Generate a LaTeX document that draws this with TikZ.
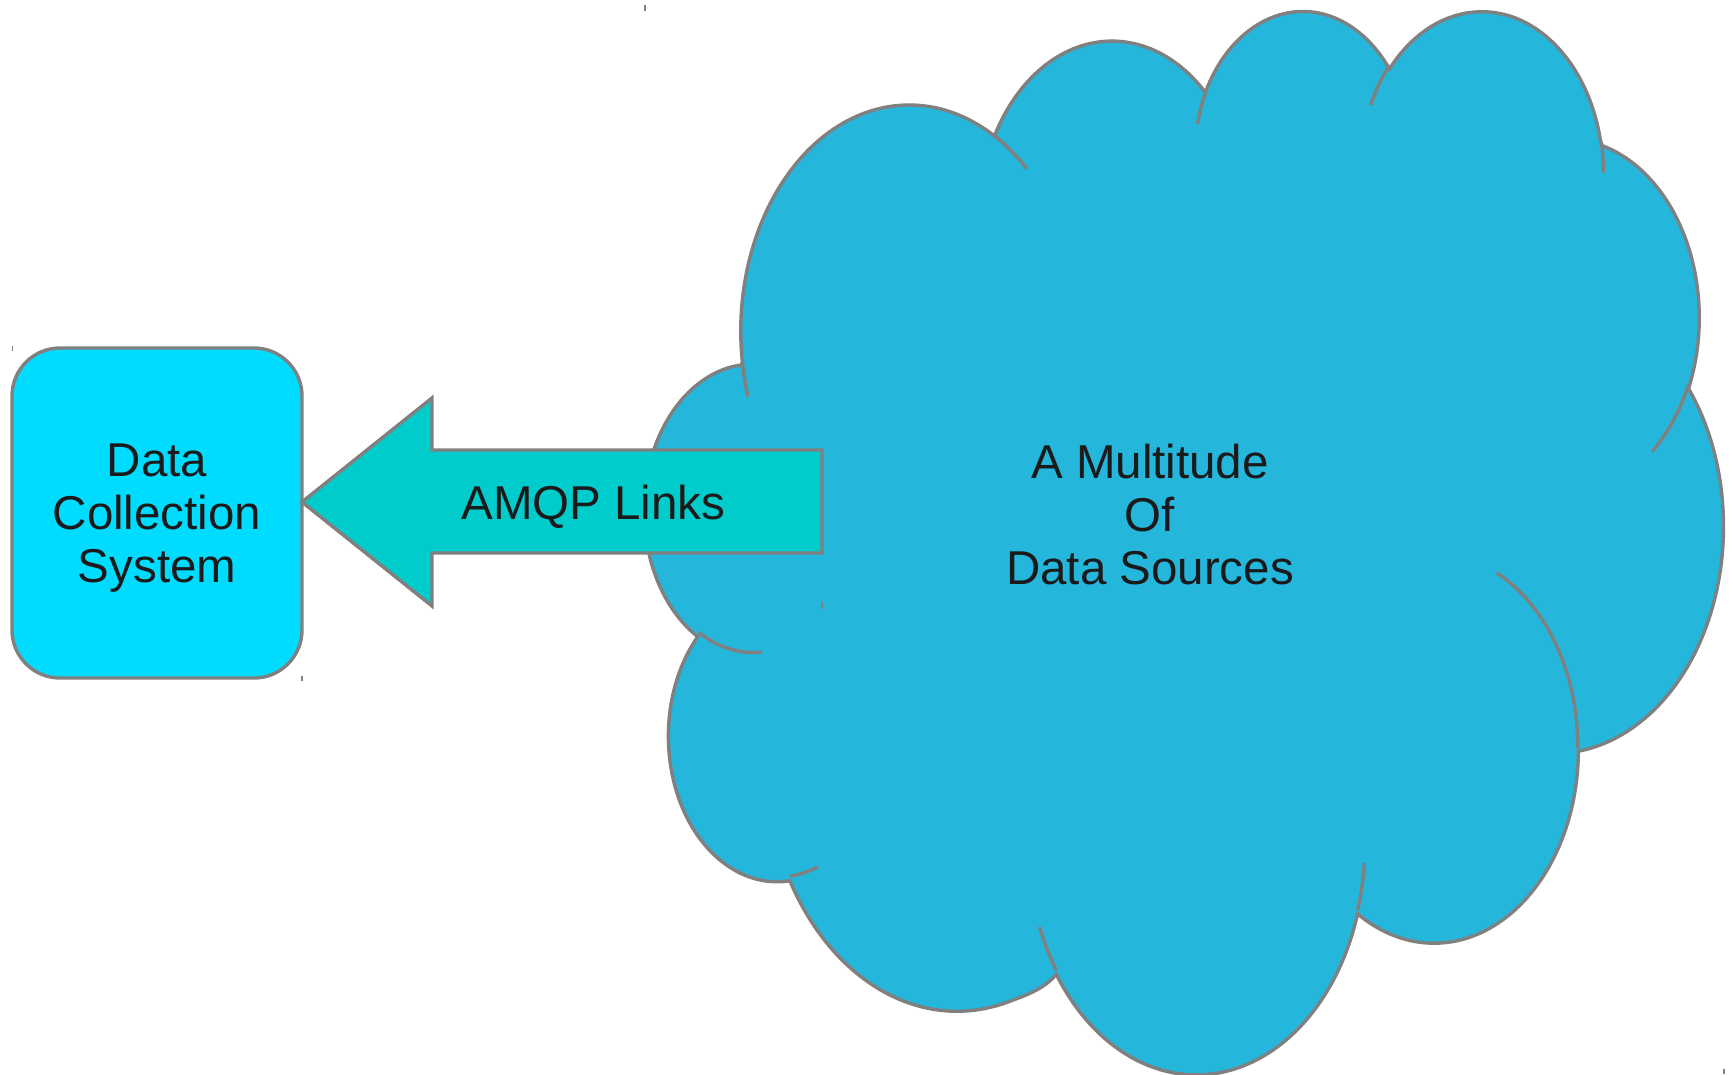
\documentclass[tikz,border=0pt]{standalone}
\usepackage{fontspec}
\setmainfont{Liberation Sans}
\definecolor{cloudfill}{HTML}{25B6DC}
\definecolor{boxfill}{HTML}{00DCFF}
\definecolor{arrowfill}{HTML}{00CCCC}
\definecolor{edgegray}{HTML}{808080}
\definecolor{txt}{HTML}{1A1A1A}
% visual angle (DrawingML arcTo) -> parametric angles for a TikZ arc
\newcommand\cloudang[5]{%
  \pgfmathsetmacro\cltmpa{atan2((#2)*sin(#4),(#3)*cos(#4))}%
  \pgfmathsetmacro\cltmpb{atan2((#2)*sin((#4)+(#5)),(#3)*cos((#4)+(#5)))}%
  \pgfmathsetmacro\cltmpb{\cltmpb<\cltmpa ? \cltmpb+360 : \cltmpb}%
  \expandafter\xdef\csname cls#1\endcsname{\cltmpa}%
  \expandafter\xdef\csname cle#1\endcsname{\cltmpb}%
}
\begin{document}
\begin{tikzpicture}[x=1pt,y=-1pt,
  edgeline/.style={draw=edgegray,line width=3.4pt},
  cloudshape/.style={edgeline,fill=cloudfill},
  cloudtail/.style={edgeline},
  linkarrow/.style={edgeline,fill=arrowfill,line join=miter},
  cornertick/.style={draw=edgegray,line width=1.5pt},
  txtstyle/.style={text=txt,font=\fontsize{47.5}{53}\selectfont,inner sep=0pt}]
\useasboundingbox (0,0) rectangle (1732,1074);
% main outline arcs
\cloudang{A}{67.53}{91.90}{-190.4875}{123.7805}
\cloudang{B}{53.33}{72.67}{-144.1024}{89.9452}
\cloudang{C}{43.65}{59.45}{-145.8079}{99.7230}
\cloudang{D}{48.57}{65.95}{-130.9861}{117.2417}
\cloudang{E}{53.33}{72.73}{-78.7089}{109.0269}
\cloudang{F}{67.75}{92.20}{-46.2673}{130.2690}
\cloudang{G}{57.85}{78.67}{0.6250}{114.0333}
\cloudang{H}{67.52}{92.15}{22.4516}{115.1726}
\cloudang{I}{77.20}{105.43}{66.2426}{75.7110}
\cloudang{J}{43.60}{59.18}{-274.9421}{146.7356}
\cloudang{K}{43.45}{59.45}{-246.8285}{152.5189}
% inner tails
\cloudang{a}{43.45}{59.45}{86.742}{26.4295}
\cloudang{b}{43.60}{59.18}{73.6105}{11.4475}
\cloudang{c}{67.52}{92.15}{137.6242}{14.0811}
\cloudang{d}{67.52}{92.15}{6.4533}{15.9984}
\cloudang{e}{57.85}{78.67}{-70.2924}{70.9174}
\cloudang{f}{53.33}{72.73}{30.3180}{27.7515}
\cloudang{g}{48.57}{65.95}{-13.7443}{14.8589}
\cloudang{h}{48.57}{65.95}{-149.1815}{18.1954}
\cloudang{i}{43.65}{59.45}{-163.4943}{17.6864}
\cloudang{j}{67.53}{91.90}{-66.7070}{12.3194}
\cloudang{k}{67.53}{91.90}{157.6544}{11.8582}
\def\kinkang{74}
\begin{scope}[shift={(645,8)},x=2.49537pt,y=-2.46065pt]
  \path[cloudshape] (39.00,143.70)
    arc[x radius=67.53,y radius=91.90,start angle=\clsA,end angle=\cleA]
    arc[x radius=53.33,y radius=72.67,start angle=\clsB,end angle=\cleB]
    arc[x radius=43.65,y radius=59.45,start angle=\clsC,end angle=\cleC]
    arc[x radius=48.57,y radius=65.95,start angle=\clsD,end angle=\cleD]
    arc[x radius=53.33,y radius=72.73,start angle=\clsE,end angle=\cleE]
    arc[x radius=67.75,y radius=92.20,start angle=\clsF,end angle=\cleF]
    arc[x radius=57.85,y radius=78.67,start angle=\clsG,end angle=\cleG]
    arc[x radius=67.52,y radius=92.15,start angle=\clsH,end angle=\cleH]
    .. controls +(-5,6.5) and +(4.5,-1.8) ..
    ++({77.20*(cos(\kinkang)-cos(\clsI))},{105.43*(sin(\kinkang)-sin(\clsI))})
    arc[x radius=77.20,y radius=105.43,start angle=\kinkang,end angle=\cleI]
    arc[x radius=43.60,y radius=59.18,start angle=\clsJ,end angle=\cleJ]
    arc[x radius=43.45,y radius=59.45,start angle=\clsK,end angle=\cleK]
    -- cycle;
  \draw[cloudtail] (46.93,261.77) arc[x radius=43.45,y radius=59.45,start angle=\clsa,end angle=\clea];
  \draw[cloudtail] (69.28,348.99) arc[x radius=43.60,y radius=59.18,start angle=\clsb,end angle=\cleb];
  \draw[cloudtail] (164.78,390.90) arc[x radius=67.52,y radius=92.15,start angle=\clsc,end angle=\clec];
  \draw[cloudtail] (288.27,347.51) arc[x radius=67.52,y radius=92.15,start angle=\clsd,end angle=\cled];
  \draw[cloudtail] (341.29,229.54) arc[x radius=57.85,y radius=78.67,start angle=\clse,end angle=\clee];
  \draw[cloudtail] (417.98,153.54) arc[x radius=53.33,y radius=72.73,start angle=\clsf,end angle=\clef];
  \draw[cloudtail] (383.24,54.26) arc[x radius=48.57,y radius=65.95,start angle=\clsg,end angle=\cleg];
  \draw[cloudtail] (290.78,39.52) arc[x radius=48.57,y radius=65.95,start angle=\clsh,end angle=\cleh];
  \draw[cloudtail] (221.41,47.20) arc[x radius=43.65,y radius=59.45,start angle=\clsi,end angle=\clei];
  \draw[cloudtail] (140.00,51.92) arc[x radius=67.53,y radius=91.90,start angle=\clsj,end angle=\clej];
  \draw[cloudtail] (41.27,157.89) arc[x radius=67.53,y radius=91.90,start angle=\clsk,end angle=\clek];
\end{scope}
% data collection box
\node[edgeline,fill=boxfill,rounded corners=48pt,minimum width=290pt,minimum height=330pt,inner sep=0pt] (dcs) at (157,513) {};
\node[txtstyle,anchor=base] (dcstext) at (157,476.7) {\begin{tabular}[t]{@{}c@{}}Data\\Collection\\System\end{tabular}};
% block arrow
\coordinate (tip) at (302,502);
\draw[linkarrow] (tip) -- (432,398) -- (432,450) -- (822,450) -- (822,553) -- (432,553) -- (432,606) -- cycle;
\node[txtstyle,anchor=base] (amqp) at (593.5,519) {AMQP Links};
% cloud label
\node[txtstyle,anchor=base] (srctext) at (1150,478.6) {\begin{tabular}[t]{@{}c@{}}A Multitude\\Of\\Data Sources\end{tabular}};
% tiny corner marks
\draw[cornertick] (645,5) -- (645,11);
\draw[cornertick] (1724,1069) -- (1724,1074);
\draw[cornertick] (12.5,346) -- (12.5,351);
\draw[cornertick] (302,676) -- (302,681);
\draw[cornertick] (822,602) -- (822,609);
\end{tikzpicture}
\end{document}
